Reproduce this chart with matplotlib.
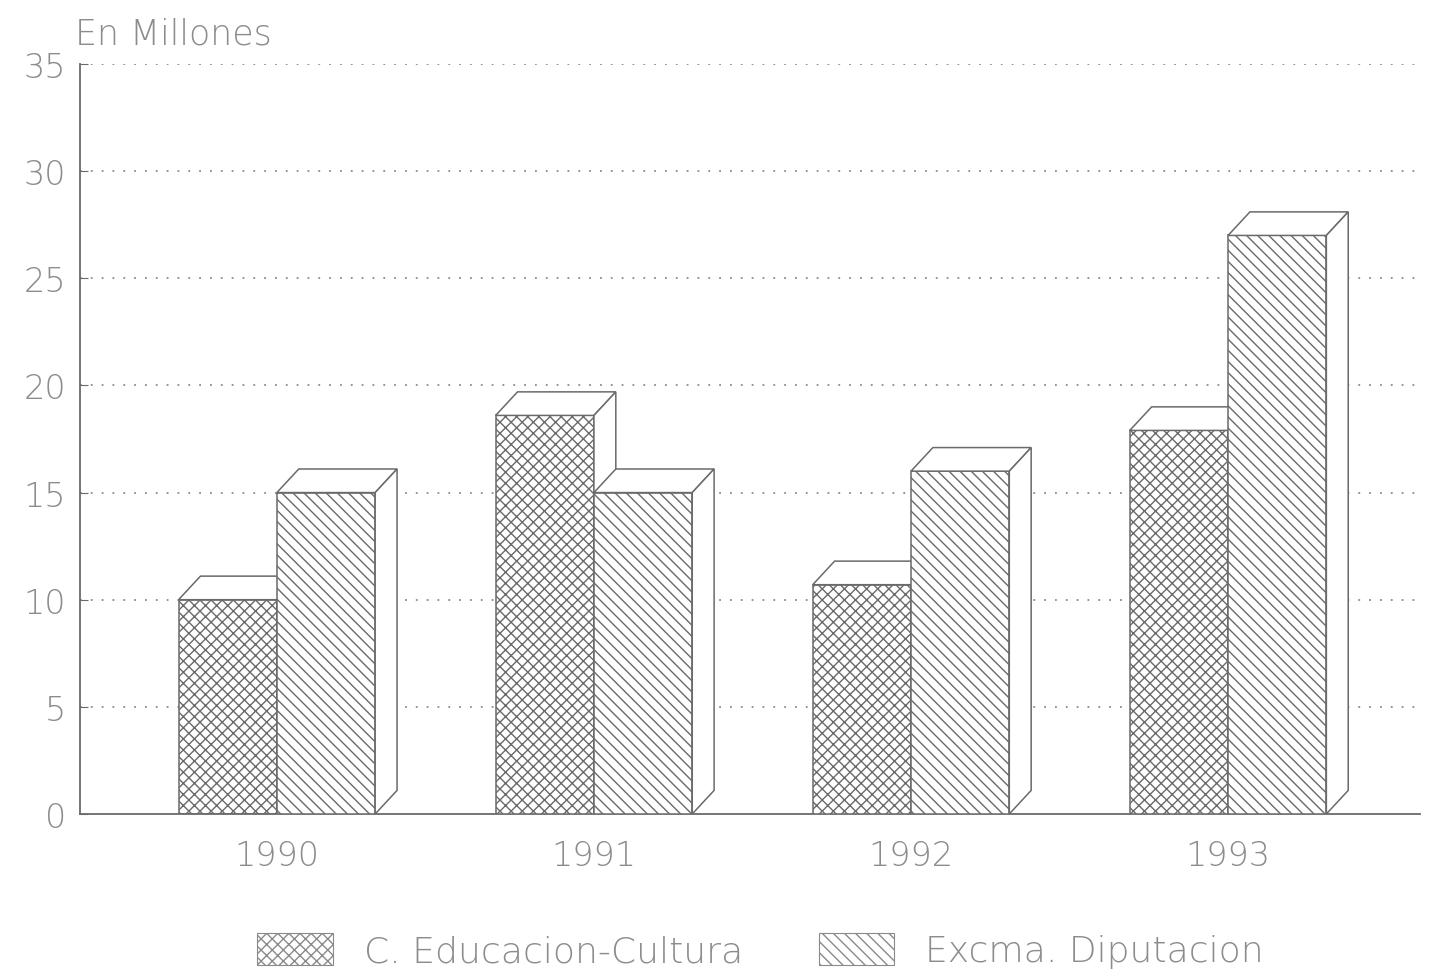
import matplotlib
matplotlib.use("Agg")
import matplotlib.pyplot as plt
from matplotlib.patches import Polygon, Patch
import numpy as np

years = ["1990", "1991", "1992", "1993"]
educacion = [10.0, 18.6, 10.7, 17.9]
diputacion = [15.0, 15.0, 16.0, 27.0]
series_names = ["C. Educacion-Cultura", "Excma. Diputacion"]
y_ticks = [0, 5, 10, 15, 20, 25, 30, 35]

plt.rcParams['font.family'] = ['DejaVu Sans']
plt.rcParams['hatch.linewidth'] = 1.0
plt.rcParams['hatch.color'] = '#9a9a9a'

TXT = '#8c8c8c'
EDGE = '#6a6a6a'

fig = plt.figure(figsize=(14.36, 9.78), dpi=100)
ax = fig.add_axes([0.0557, 0.1667, 0.9333, 0.7668])

w = 0.31
dx, dy = 0.069, 1.1
x = np.arange(len(years))

ax.set_xlim(-0.621, 3.606)
ax.set_ylim(0, 35)

for yt in y_ticks[1:]:
    ax.axhline(yt, color='#8a8a8a', lw=1.3, ls=(0, (1, 5)), zorder=0)

def bar3d(x0, h, hatch, z):
    ax.bar(x0, h, width=w, align='edge', facecolor='white', edgecolor=EDGE,
           hatch=hatch, lw=1.1, zorder=z)
    top = Polygon([(x0, h), (x0 + dx, h + dy), (x0 + w + dx, h + dy), (x0 + w, h)],
                  closed=True, facecolor='white', edgecolor=EDGE, lw=1.1, zorder=z)
    side = Polygon([(x0 + w, 0), (x0 + w + dx, dy), (x0 + w + dx, h + dy), (x0 + w, h)],
                   closed=True, facecolor='white', edgecolor=EDGE, lw=1.1, zorder=z)
    ax.add_patch(top)
    ax.add_patch(side)

for i in range(len(years)):
    bar3d(x[i] - w, educacion[i], 'xxx', 2 + 2 * i)
    bar3d(x[i], diputacion[i], '\\\\\\', 3 + 2 * i)

for s in ['top', 'right']:
    ax.spines[s].set_visible(False)
ax.spines['left'].set_color(EDGE)
ax.spines['bottom'].set_color(EDGE)
ax.spines['left'].set_linewidth(1.3)
ax.spines['bottom'].set_linewidth(1.3)

ax.set_yticks(y_ticks)
ax.set_yticklabels([str(v) for v in y_ticks], fontsize=24, color=TXT, fontweight='light')
ax.set_xticks(x)
ax.set_xticklabels(years, fontsize=24, color=TXT, fontweight='light')
ax.tick_params(axis='y', length=6, direction='in', color=EDGE, pad=10)
ax.tick_params(axis='x', length=0, pad=18)

fig.text(0.052, 0.965, "En Millones", fontsize=25, color=TXT, fontweight='light',
         ha='left', va='center')

handles = [Patch(facecolor='white', edgecolor='#8a8a8a', hatch='xxx', lw=0.8),
           Patch(facecolor='white', edgecolor='#8a8a8a', hatch='\\\\\\', lw=0.8)]
leg = fig.legend(handles, series_names, loc='center left',
                 bbox_to_anchor=(0.179, 0.027), borderpad=0, borderaxespad=0,
                 ncol=2, frameon=False, fontsize=26, handlelength=2.1, handleheight=1.0,
                 columnspacing=2.1, handletextpad=0.85)
for t in leg.get_texts():
    t.set_color(TXT)
    t.set_fontweight('light')

fig.savefig("out.png", dpi=100, facecolor='white')
